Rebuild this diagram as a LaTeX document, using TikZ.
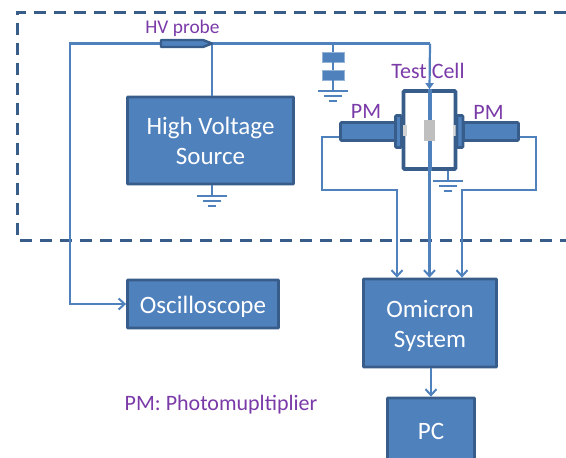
\documentclass[tikz,border=0pt]{standalone}
\usepackage{fontspec}
\setmainfont{Carlito}
\usetikzlibrary{arrows.meta,calc}
\definecolor{fillb}{HTML}{4F81BD}
\definecolor{edgeb}{HTML}{385D8A}
\definecolor{wire}{HTML}{4F81BD}
\definecolor{purp}{HTML}{7A3AA8}
\definecolor{greyb}{HTML}{BFBFBF}
\tikzset{
  box/.style={draw=edgeb,fill=fillb,line width=2.8pt,text=white,align=center,inner sep=0pt,font=\fontsize{25}{30}\selectfont,rounded corners=0.5pt},
  part/.style={draw=edgeb,fill=fillb,line width=2.6pt,inner sep=0pt,rounded corners=1pt},
  plate/.style={draw=wire!60,fill=fillb,line width=0.8pt,inner sep=0pt},
  greyblock/.style={fill=greyb,inner sep=0pt},
  wireline/.style={draw=wire,line width=2.2pt},
  arrowline/.style={wireline,-{Straight Barb[length=6pt,width=11pt,line width=2pt]}},
  fillarrow/.style={wireline,-{Triangle[length=6pt,width=8pt]}},
  lab/.style={text=purp,inner sep=0pt,font=\fontsize{22}{26}\selectfont},
  gnd/.style={draw=wire,line width=1.2pt},
}
\newcommand{\groundat}[1]{%
  \draw[gnd] ($(#1)+(-15,0)$) -- ($(#1)+(15,0)$);
  \draw[gnd] ($(#1)+(-9,5)$) -- ($(#1)+(9,5)$);
  \draw[gnd] ($(#1)+(-4,10)$) -- ($(#1)+(4,10)$);
}
\begin{document}
\begin{tikzpicture}[x=1pt,y=-1pt]
\useasboundingbox (0,0) rectangle (566,458);
% dashed enclosure
\coordinate (dtr) at (566,12);
\coordinate (dtl) at (17,12);
\coordinate (dbl) at (17,240);
\coordinate (dbr) at (566,240);
\draw[draw=edgeb,line width=3pt,dash pattern=on 12pt off 8pt] (dtr) -- (dtl) -- (dbl) -- (dbr);

% boxes
\node[box,minimum width=166pt,minimum height=87pt] (hv) at (210.5,140.5) {High Voltage\\Source};
\node[box,minimum width=151pt,minimum height=48pt] (osc) at (203,304) {\rule{0pt}{23pt}Oscilloscope};
\node[box,minimum width=133pt,minimum height=88pt] (omi) at (430,323) {\rule{0pt}{23pt}Omicron\\System};
\node[box,minimum width=87pt,minimum height=62pt] (pc) at (431,429) {\rule{0pt}{21pt}PC};

% capacitor
\coordinate (captop) at (333,44);
\node[plate,minimum width=22pt,minimum height=10pt] (c1) at (333,57) {};
\node[plate,minimum width=22pt,minimum height=10pt] (c2) at (333,75) {};
\coordinate (g1) at (333,91);
\coordinate (g2) at (212,196);
\coordinate (g3) at (448,181);

% probe
\coordinate (ptip) at (212,43.5);
\coordinate (pback) at (161,43.5);
\coordinate (corner) at (70,43.5);
\coordinate (wtop) at (430,43.5);

% wires behind
\draw[wireline] (ptip) -- (wtop);
\draw[wireline] (ptip) -- (ptip |- hv.north);
\draw[arrowline] (pback) -- (corner) -- (corner |- osc.west) -- (osc.west);
\draw[wireline] (c1.south) -- (c2.north);
\draw[wireline] (c2.south) -- (g1);
\draw[wireline] (captop) -- (c1.north);

\draw[draw=edgeb,fill=fillb,line width=2.4pt,line join=round] (161,40) -- (203,40) -- (ptip) -- (203,47) -- (161,47) -- cycle;

% test cell
\node[draw=edgeb,fill=white,line width=3.6pt,minimum width=52pt,minimum height=78pt,inner sep=0pt,rounded corners=1pt] (cell) at (429.5,130) {};
\draw[draw=wire,line width=4pt] (cell.north) -- (cell.south);
\node[greyblock,minimum width=11pt,minimum height=21pt] (sample) at (429.5,130.5) {};
\node[fill=greyb!70,inner sep=0pt,minimum width=4pt,minimum height=11pt] (wl) at (404.5,130.5) {};
\node[fill=greyb!60,inner sep=0pt,minimum width=4pt,minimum height=11pt] (wr) at (454.5,130.5) {};

% photomultipliers
\node[part,minimum width=6pt,minimum height=32pt] (fl) at (398.5,131.5) {};
\node[part,minimum width=6pt,minimum height=32pt] (fr) at (460,131.5) {};
\node[part,minimum width=55pt,minimum height=18pt] (pml) at (368,131.5) {};
\node[part,minimum width=55pt,minimum height=18pt] (pmr) at (491,131.5) {};
\draw[draw=fillb,line width=1.5pt] (fl.north) ++(0,3) -- ($(fl.south)+(0,-3)$);
\draw[draw=fillb,line width=1.5pt] (fr.north) ++(0,3) -- ($(fr.south)+(0,-3)$);

% cell wires
\draw[fillarrow] (wtop) -- (cell.north);
\draw[arrowline] (cell.south) -- (cell.south |- omi.north);
\draw[gnd] (g3 |- cell.south) -- (g3);
\coordinate (lc1) at (322,137);
\coordinate (lc2) at (322,190);
\coordinate (lc3) at (397,190);
\coordinate (rc1) at (536,137);
\coordinate (rc2) at (536,190);
\coordinate (rc3) at (462,190);
\draw[arrowline] (lc1 -| pml.west) -- (lc1) -- (lc2) -- (lc3) -- (lc3 |- omi.north);
\draw[arrowline] (rc1 -| pmr.east) -- (rc1) -- (rc2) -- (rc3) -- (rc3 |- omi.north);
\draw[arrowline] (omi.south -| pc.north) -- (pc.north);

% grounds
\groundat{g1}
\groundat{g2}
\groundat{g3}
\draw[gnd] (g2 |- hv.south) -- (g2);

% labels
\node[lab,font=\fontsize{19.4}{23}\selectfont] (lhv) at (182.5,28) {HV probe};
\node[lab] (ltc) at (428,71) {Test Cell};
\node[lab] (lpl) at (366,111) {PM};
\node[lab] (lpr) at (488.5,112) {PM};
\node[lab] (lpm) at (221,404.5) {PM: Photomupltiplier};
\end{tikzpicture}
\end{document}
